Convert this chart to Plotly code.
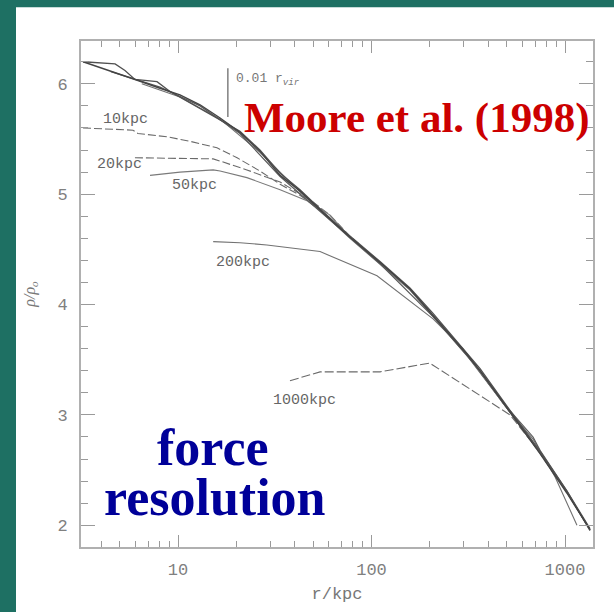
import math
import plotly.graph_objects as go

# --- density profiles (r in kpc, log density ratio) ---
main_a_r = [3.23, 4.45, 6.21, 8.07, 10.24, 13.0, 16.5, 20.9, 26.5, 33.7, 42.7, 55.5, 77.4, 110.7, 158, 208, 311, 364, 501, 743, 1024, 1346]
main_a_y = [6.20, 6.12, 6.03, 5.96, 5.90, 5.81, 5.69, 5.56, 5.39, 5.17, 5.03, 4.84, 4.61, 4.38, 4.14, 3.90, 3.55, 3.40, 3.06, 2.65, 2.29, 1.96]

main_b_r = [3.23, 4.73, 5.32, 5.99, 7.79, 9.09, 11.5, 15.9, 20.9, 26.5, 33.7, 42.7, 55.5, 77.4, 110.7, 158, 208, 311, 364, 501, 743, 1024, 1346]
main_b_y = [6.20, 6.18, 6.12, 6.04, 6.02, 5.93, 5.83, 5.69, 5.57, 5.40, 5.19, 5.04, 4.85, 4.62, 4.39, 4.15, 3.92, 3.56, 3.42, 3.08, 2.67, 2.31, 1.97]

main_c_r = [6.5, 10.24, 16.5, 26.5, 42.7, 77.4, 158, 311, 501, 684, 888, 1153]
main_c_y = [6.00, 5.88, 5.68, 5.38, 5.02, 4.60, 4.13, 3.54, 3.06, 2.78, 2.44, 2.00]

main_d_r = [4.5, 8.07, 13.0, 20.9, 33.7, 55.5, 110.7, 208, 364, 501, 684, 743, 1024, 1346]
main_d_y = [6.11, 5.97, 5.80, 5.55, 5.16, 4.83, 4.37, 3.89, 3.40, 3.07, 2.80, 2.68, 2.31, 1.95]

r10_r = [3.23, 5.85, 6.21, 8.77, 11.5, 15.9, 20.2, 26.5, 33.7, 42.7, 55.5, 77.4, 110.7, 158, 208, 311, 501, 743, 1024, 1346]
r10_y = [5.60, 5.58, 5.55, 5.52, 5.48, 5.42, 5.33, 5.21, 5.09, 4.99, 4.84, 4.61, 4.38, 4.14, 3.90, 3.55, 3.06, 2.65, 2.30, 1.96]

r20_r = [5.99, 15.2, 16.5, 22.7, 33.7, 48.1, 61.0, 77.4, 110.7, 158, 208, 311, 501, 743, 1024, 1346]
r20_y = [5.33, 5.32, 5.30, 5.22, 5.11, 4.95, 4.81, 4.62, 4.38, 4.14, 3.90, 3.55, 3.06, 2.66, 2.30, 1.96]

r50_r = [7.17, 10.24, 15.2, 16.5, 22.7, 33.7, 48.1, 61.0, 77.4, 110.7, 158, 208, 311, 501, 743, 1024, 1346]
r50_y = [5.17, 5.20, 5.22, 5.21, 5.15, 5.04, 4.93, 4.81, 4.61, 4.38, 4.14, 3.90, 3.55, 3.06, 2.66, 2.30, 1.96]

r200_r = [15.2, 20.9, 28.8, 54.2, 106.8, 208, 297, 410, 501, 743, 1024, 1346]
r200_y = [4.57, 4.56, 4.54, 4.48, 4.26, 3.87, 3.60, 3.28, 3.07, 2.66, 2.30, 1.96]

r1000_r = [37.9, 54.2, 110.7, 200, 208, 520, 743, 1024, 1346]
r1000_y = [3.31, 3.39, 3.39, 3.47, 3.45, 3.00, 2.66, 2.30, 1.96]

# 0.01 r_vir marker
rvir_r = [18.1, 18.1]
rvir_y = [5.70, 6.14]

# curve labels and their centres (r in kpc, y)
curve_labels = ["10kpc", "20kpc", "50kpc", "200kpc", "1000kpc"]
label_r = [5.38, 5.01, 12.1, 21.7, 45.3]
label_y = [5.675, 5.27, 5.08, 4.385, 3.13]

x_ticks = [10, 100, 1000]
y_ticks = [2, 3, 4, 5, 6]

TEAL = "#1e7063"
MONO = "Liberation Mono, Courier New, monospace"
SERIF = "Liberation Serif, Times New Roman, serif"

fig = go.Figure()


def add_line(rr, yy, color, width, dash="solid"):
    fig.add_trace(go.Scatter(x=rr, y=yy, mode="lines",
                             line=dict(color=color, width=width, dash=dash),
                             hoverinfo="skip", showlegend=False))


add_line(r10_r, r10_y, "#6a6a6a", 1.1, "8px,3px")
add_line(r20_r, r20_y, "#6a6a6a", 1.1, "8px,3px")
add_line(r50_r, r50_y, "#7a7a7a", 1.1)
add_line(r200_r, r200_y, "#727272", 1.1)
add_line(r1000_r, r1000_y, "#6a6a6a", 1.1, "9px,3px")
add_line(main_c_r, main_c_y, "#707070", 1.1)
add_line(main_d_r, main_d_y, "#5a5a5a", 1.2)
add_line(main_b_r, main_b_y, "#505050", 1.3)
add_line(main_a_r, main_a_y, "#444444", 1.4)
add_line(rvir_r, rvir_y, "#777777", 1.4)

# log axis: annotation x positions are given in log10 units
for txt, rr, yy in zip(curve_labels, label_r, label_y):
    fig.add_annotation(x=math.log10(rr), y=yy, text=txt, showarrow=False,
                       xanchor="center", yanchor="middle",
                       font=dict(family=MONO, size=15, color="#666666"))

fig.add_annotation(x=math.log10(rvir_r[0]) + 0.03, y=6.04, text="0.01 r<sub><i>vir</i></sub>",
                   showarrow=False, xanchor="left", yanchor="middle",
                   font=dict(family=MONO, size=13, color="#777777"))


def paper_xy(px, py):
    return (px - 81) / 512, (549 - py) / 508


# headline texts
hx, hy = paper_xy(416, 118)
fig.add_annotation(x=hx, y=hy, xref="paper", yref="paper", xanchor="center", yanchor="middle",
                   text="<b>Moore et al. (1998)</b>", showarrow=False,
                   font=dict(family=SERIF, size=43, color="#cc0000"))
fx, fy = paper_xy(213, 449)
fig.add_annotation(x=fx, y=fy, xref="paper", yref="paper", xanchor="center", yanchor="middle",
                   text="<b>force</b>", showarrow=False,
                   font=dict(family=SERIF, size=52, color="#000099"))
rx, ry = paper_xy(215, 499)
fig.add_annotation(x=rx, y=ry, xref="paper", yref="paper", xanchor="center", yanchor="middle",
                   text="<b>resolution</b>", showarrow=False,
                   font=dict(family=SERIF, size=52, color="#000099"))

# white panel over the teal page
x0, y1 = paper_xy(16, 7)
x1, y0 = paper_xy(620, 620)
fig.add_shape(type="rect", xref="paper", yref="paper", layer="below",
              x0=x0, x1=x1, y0=y0, y1=y1, fillcolor="white", line=dict(width=0))

axis_common = dict(showline=True, linecolor="#b0b0b0", linewidth=2, mirror="ticks",
                   ticks="inside", tickcolor="#9a9a9a", tickwidth=1.3,
                   showgrid=False, zeroline=False,
                   tickfont=dict(family=MONO, size=17, color="#808080"))

fig.update_xaxes(type="log", range=[0.4987, 3.1447], tickvals=x_ticks,
                 ticktext=[str(v) for v in x_ticks], ticklen=12,
                 minor=dict(ticks="inside", ticklen=6, dtick="D1", tickcolor="#9a9a9a", showgrid=False),
                 ticklabelstandoff=6,
                 title=dict(text="r/kpc", font=dict(family=MONO, size=17, color="#777777"), standoff=8),
                 **axis_common)
fig.update_yaxes(range=[1.803, 6.388], tickvals=y_ticks, ticklen=14,
                 minor=dict(ticks="inside", ticklen=7, dtick=0.2, tickcolor="#9a9a9a", showgrid=False),
                 ticklabelstandoff=8,
                 title=dict(text="<i>ρ/ρ<sub>o</sub></i>", font=dict(family=SERIF, size=16, color="#777777"), standoff=18),
                 **axis_common)

fig.update_layout(width=614, height=612, margin=dict(l=81, r=21, t=41, b=63),
                  paper_bgcolor=TEAL, plot_bgcolor="white")

fig.write_html("out.html")
